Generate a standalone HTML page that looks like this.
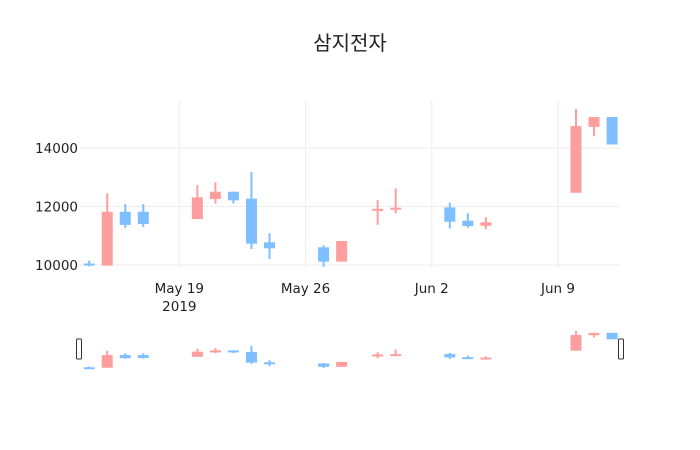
<!DOCTYPE html>
<html><head><meta charset="utf-8"><style>
body{margin:0;background:#fff}
svg{display:block;font-family:"DejaVu Sans","Noto Sans CJK KR",sans-serif}
</style></head><body>
<svg id="chart" width="700" height="450">
<text x="350" y="50" text-anchor="middle" font-size="20" fill="#222" font-family="Liberation Sans, Noto Sans CJK KR, sans-serif">삼지전자</text>
<g id="grid"></g><g id="main"></g><g id="xt"></g><g id="yt"></g><g id="slider"></g>
</svg>
<script>
const dates=["2019-05-14","2019-05-15","2019-05-16","2019-05-17","2019-05-20","2019-05-21","2019-05-22","2019-05-23","2019-05-24","2019-05-27","2019-05-28","2019-05-30","2019-05-31","2019-06-03","2019-06-04","2019-06-05","2019-06-10","2019-06-11","2019-06-12"];
const openV=[10050,9980,11820,11820,11570,12255,12505,12270,10775,10605,10115,11850,11920,11970,11515,11340,12470,14720,15060];
const highV=[10150,12450,12085,12085,12735,12830,12505,13180,11085,10675,10820,12220,12620,12130,11770,11630,15330,15060,15060];
const lowV=[9950,9980,11270,11300,11570,12100,12100,10545,10200,9940,10115,11370,11770,11250,11270,11220,12470,14400,14120];
const closeV=[9980,11820,11370,11400,12315,12505,12210,10730,10570,10115,10820,11920,11960,11480,11330,11460,14750,15060,14120];
const yTicks=[10000,12000,14000];
const xTickDates=["2019-05-19","2019-05-26","2019-06-02","2019-06-09"];
const xTickLabels=["May 19","May 26","Jun 2","Jun 9"];

const NS="http://www.w3.org/2000/svg";
const DAY=86400000, t0=Date.UTC(2019,4,14);
function dnum(s){const p=s.split("-");return (Date.UTC(+p[0],+p[1]-1,+p[2])-t0)/DAY;}
const X=d=>89.2+dnum(d)*18.03;
const Y=v=>265-(v-10000)*0.02925;
const YS=v=>368-(v-9940)*0.006865;
function mk(tag,attrs,parent){const e=document.createElementNS(NS,tag);for(const k in attrs)e.setAttribute(k,attrs[k]);parent.appendChild(e);return e;}
const grid=document.getElementById("grid"),main=document.getElementById("main"),xt=document.getElementById("xt"),yt=document.getElementById("yt"),sl=document.getElementById("slider");
yTicks.forEach(v=>{
 const l=mk("line",{x1:80,x2:620,y1:Y(v),y2:Y(v),stroke:"#eee","stroke-width":1},grid);
 
 
 const t=mk("text",{x:78,y:Y(v)+5,"text-anchor":"end","font-size":13.5,fill:"#222"},yt);
 t.textContent=String(v);
 
 
});
xTickDates.forEach((d,i)=>{
 const x=X(d);
 const l=mk("line",{x1:x,x2:x,y1:100,y2:268,stroke:"#eee","stroke-width":1},grid);
 
 
 const t=mk("text",{x:x,y:293,"text-anchor":"middle","font-size":13.5,fill:"#222"},xt);
 t.textContent=xTickLabels[i];
 
 
});
const yr=mk("text",{x:X(xTickDates[0]),y:311,"text-anchor":"middle","font-size":13.5,fill:"#222"},xt);
yr.textContent="2019";


function candle(parent,i,yf,bw,name){
 const up=closeV[i]>=openV[i];
 const col=up?"#ff9e9e":"#80bfff";
 const x=X(dates[i]);
 const g=mk("g",{},parent);
 
 
 mk("line",{x1:x,x2:x,y1:yf(highV[i]),y2:yf(lowV[i]),stroke:col,"stroke-width":2},g);
 const top=yf(Math.max(openV[i],closeV[i])),bot=yf(Math.min(openV[i],closeV[i]));
 mk("rect",{x:x-bw/2,y:top,width:bw,height:Math.max(bot-top,2),fill:col},g);
}
dates.forEach((d,i)=>candle(main,i,Y,11,"candle"));
dates.forEach((d,i)=>candle(sl,i,YS,11,"slider-candle"));
const bg=mk("rect",{x:80,y:327,width:540,height:45,fill:"none",stroke:"none"},sl);


[79,621].forEach((hx,k)=>{
 const h=mk("rect",{x:hx-2.5,y:339,width:5,height:20,rx:1,fill:"#fff",stroke:"#333","stroke-width":1},sl);
 
 
});
</script>
</body></html>
